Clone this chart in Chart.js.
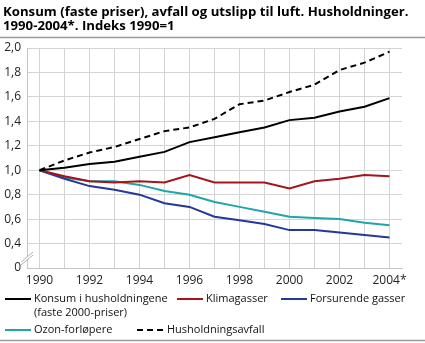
<!DOCTYPE html>
<html>
<head>
<meta charset="utf-8">
<script src="https://cdn.jsdelivr.net/npm/chart.js@4"></script>
<style>
html,body{margin:0;padding:0;background:#fff;}
#wrap{position:relative;width:425px;height:343px;}
</style>
</head>
<body>
<div id="wrap"><canvas id="c" width="425" height="343"></canvas></div>
<script>
const titleLines = ["Konsum (faste priser), avfall og utslipp til luft. Husholdninger.", "1990-2004*. Indeks 1990=1"];
const years = ["1990","1991","1992","1993","1994","1995","1996","1997","1998","1999","2000","2001","2002","2003","2004*"];
const konsum = [1.00,1.02,1.05,1.07,1.11,1.15,1.23,1.27,1.31,1.35,1.41,1.43,1.48,1.52,1.59];
const klimagasser = [1.00,0.95,0.91,0.90,0.91,0.90,0.96,0.90,0.90,0.90,0.85,0.91,0.93,0.96,0.95];
const forsurende = [1.00,0.93,0.87,0.84,0.80,0.73,0.70,0.62,0.59,0.56,0.51,0.51,0.49,0.47,0.45];
const ozon = [1.00,0.94,0.91,0.91,0.88,0.83,0.80,0.74,0.70,0.66,0.62,0.61,0.60,0.57,0.55];
const avfall = [1.00,1.08,1.145,1.19,1.255,1.32,1.35,1.42,1.54,1.57,1.64,1.70,1.82,1.88,1.97];
const seriesLabels = [["Konsum i husholdningene","(faste 2000-priser)"],["Klimagasser"],["Forsurende gasser"],["Ozon-forløpere"],["Husholdningsavfall"]];
const yTicks = [0.2,0.4,0.6,0.8,1.0,1.2,1.4,1.6,1.8,2.0];

const FONT = "'Open Sans', 'DejaVu Sans', sans-serif";
const colors = ["#000000","#a5141c","#23389a","#20a5a8","#000000"];

const decor = {
  id:'decor',
  afterDraw(chart){
    const ctx = chart.ctx;
    ctx.save();
    // title
    ctx.fillStyle = '#000';
    ctx.font = "bold 13.2px " + FONT;
    ctx.textBaseline = 'middle';
    ctx.textAlign = 'left';
    ctx.fillText(titleLines[0], 3, 12);
    ctx.fillText(titleLines[1], 3, 26);
    // separator lines
    ctx.strokeStyle = '#9a9a9a';
    ctx.lineWidth = 1.5;
    ctx.beginPath(); ctx.moveTo(0, 37.5); ctx.lineTo(425, 37.5); ctx.stroke();
    ctx.beginPath(); ctx.moveTo(0, 340.5); ctx.lineTo(425, 340.5); ctx.stroke();
    // axis break marks
    const ca = chart.chartArea;
    ctx.strokeStyle = '#b0b0b0';
    ctx.lineWidth = 1;
    ctx.fillStyle = '#fff';
    ctx.beginPath(); ctx.moveTo(ca.left-6, ca.bottom-6); ctx.lineTo(ca.left+6, ca.bottom-16); ctx.lineTo(ca.left+6, ca.bottom-13); ctx.lineTo(ca.left-6, ca.bottom-3); ctx.closePath(); ctx.fill();
    ctx.beginPath(); ctx.moveTo(ca.left-6, ca.bottom-6); ctx.lineTo(ca.left+6, ca.bottom-16); ctx.stroke();
    ctx.beginPath(); ctx.moveTo(ca.left-6, ca.bottom-3); ctx.lineTo(ca.left+6, ca.bottom-13); ctx.stroke();
    // legend
    ctx.font = "11px " + FONT;
    ctx.fillStyle = '#111';
    const items = [
      {i:0, x:5, y:299}, {i:1, x:177, y:299}, {i:2, x:281, y:299},
      {i:3, x:5, y:330}, {i:4, x:137, y:330}
    ];
    items.forEach(it => {
      const ds = chart.data.datasets[it.i];
      ctx.strokeStyle = ds.borderColor;
      ctx.lineWidth = 2;
      ctx.setLineDash(ds.borderDash || []);
      ctx.beginPath(); ctx.moveTo(it.x, it.y); ctx.lineTo(it.x+26, it.y); ctx.stroke();
      ctx.setLineDash([]);
      const lines = seriesLabels[it.i];
      const tx = it.x + (ds.borderDash ? 30 : 29);
      lines.forEach((t, k) => ctx.fillText(t, tx, it.y + k*14));
    });
    ctx.restore();
  }
};

const mk = (lbl, data, col, dash) => ({
  label: lbl, data: data, borderColor: col, backgroundColor: col,
  borderWidth: 2, pointRadius: 0, tension: 0, fill: false,
  borderDash: dash, borderCapStyle: 'butt'
});

new Chart(document.getElementById('c'), {
  type: 'line',
  data: {
    labels: years,
    datasets: [
      mk(seriesLabels[0].join(' '), konsum, colors[0]),
      mk(seriesLabels[1][0], klimagasser, colors[1]),
      mk(seriesLabels[2][0], forsurende, colors[2]),
      mk(seriesLabels[3][0], ozon, colors[3]),
      mk(seriesLabels[4][0], avfall, colors[4], [6,4])
    ]
  },
  options: {
    responsive: false,
    animation: false,
    layout: { padding: { top: 48, right: 23, bottom: 55, left: 0 } },
    plugins: { legend: { display: false }, title: { display: false }, tooltip: { enabled: false } },
    scales: {
      x: {
        type: 'category',
        offset: true,
        grid: { offset: false, color: '#d4d4d4', lineWidth: 1, drawTicks: false },
        border: { display: true, color: '#c4c4c4' },
        ticks: {
          autoSkip: false, maxRotation: 0, padding: 5, color: '#222',
          font: { family: FONT, size: 12 },
          callback: function(v, i){ return i % 2 === 0 ? this.getLabelForValue(v) : ''; }
        },
        afterFit: s => { s.height = 20; }
      },
      y: {
        min: 0.2, max: 2.0,
        afterBuildTicks: s => { s.ticks = yTicks.map(v => ({value: v})); },
        grid: { color: '#d4d4d4', lineWidth: 1, drawTicks: false },
        border: { display: true, color: '#c4c4c4' },
        ticks: {
          padding: 6, color: '#222',
          font: { family: FONT, size: 12 },
          callback: v => v < 0.3 ? '0' : v.toFixed(1).replace('.', ',')
        },
        afterFit: s => { s.width = 27; }
      }
    }
  },
  plugins: [decor]
});
</script>
</body>
</html>
